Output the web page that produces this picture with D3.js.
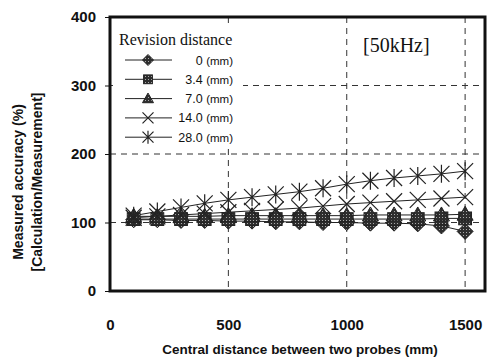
<!DOCTYPE html>
<html>
<head>
<meta charset="utf-8">
<script src="https://cdn.jsdelivr.net/npm/d3@7"></script>
<style>
  body { margin:0; background:#fff; }
  svg { display:block; }
  text { font-family: "Liberation Sans", Arial, sans-serif; fill:#111; }
</style>
</head>
<body>
<svg id="chart"></svg>
<script>
// data
const distances = [100,200,300,400,500,600,700,800,900,1000,1100,1200,1300,1400,1500];
const seriesNames = ["0", "3.4", "7.0", "14.0", "28.0"];
const rev0  = [104,104,103,103,102,102,101,101,100,100,99,99,98,95,87];
const rev34 = [105,105,105,105,105,105,105,105,105,105,105,105,105,106,106];
const rev70 = [109,109,109,109,110,110,110,110,110,110,111,111,111,111,112];
const rev140 = [107,109,111,113,115,117,119,121,124,127,129,131,133,135,137];
const rev280 = [110,116,122,128,133,137,141,145,150,156,161,165,168,171,175];
const xTicks = [0,500,1000,1500];
const yTicks = [0,100,200,300,400];

const allSeries = [rev0, rev34, rev70, rev140, rev280];
const markers = ["diamond", "square", "triangle", "cross", "star"];

let width = 488, height = 360;
let svg = d3.select("#chart").attr("width", width).attr("height", height);

let x = d3.scaleLinear().domain([0,1584]).range([110,485]);
let y = d3.scaleLinear().domain([0,400]).range([291,17]);

// dotted fill for the solid markers
let defs = svg.append("defs");
let pat = defs.append("pattern").attr("id","dots")
    .attr("width",3).attr("height",3).attr("patternUnits","userSpaceOnUse");
pat.append("rect").attr("width",3).attr("height",3).attr("fill","#2e2e2e");
pat.append("rect").attr("x",1).attr("y",1).attr("width",1).attr("height",1).attr("fill","#aaa");

// horizontal grid (dashed)
let grid = svg.append("g").attr("stroke","#333").attr("stroke-width",1)
    .attr("stroke-dasharray","6,5");
grid.selectAll(".gy").data(yTicks.slice(1,4)).enter().append("line")
    .attr("x1", x(0)).attr("x2", x(1584))
    .attr("y1", d => y(d)).attr("y2", d => y(d));

// legend background hides the grid behind it
svg.append("rect").attr("x",113).attr("y",27).attr("width",130).attr("height",118).attr("fill","#fff");

// vertical grid
grid.selectAll(".gx").data(xTicks.slice(1)).enter().append("line")
    .attr("x1", d => x(d)).attr("x2", d => x(d))
    .attr("y1", y(400)).attr("y2", y(0));

// axes
let xAxis = d3.axisBottom(x).tickValues(xTicks).tickFormat(d3.format("d")).tickSize(0).tickPadding(28);
let yAxis = d3.axisLeft(y).tickValues(yTicks).tickFormat(d3.format("d")).tickSize(5).tickPadding(9);
let gx = svg.append("g").attr("transform","translate(0,"+y(0)+")").call(xAxis);
let gy = svg.append("g").attr("transform","translate("+x(0)+",0)").call(yAxis);
[gx, gy].forEach(g => {
  g.select(".domain").remove();
  g.selectAll("text").attr("font-size",15).attr("font-weight","bold")
    .attr("fill","#111").style("font-family","Liberation Sans, Arial, sans-serif");
  g.selectAll("line").attr("stroke","#111");
});

// frame
svg.append("rect")
  .attr("x", x(0)).attr("y", y(400))
  .attr("width", x(1584)-x(0)).attr("height", y(0)-y(400))
  .attr("fill","none").attr("stroke","#111").attr("stroke-width",3);

function drawMarker(g, type, cx, cy, s) {
  if (type == "diamond") {
    g.append("path").attr("d","M"+cx+","+(cy-s)+"L"+(cx+s)+","+cy+"L"+cx+","+(cy+s)+"L"+(cx-s)+","+cy+"Z")
      .attr("fill","url(#dots)").attr("stroke","#222").attr("stroke-width",1);
  } else if (type == "square") {
    let h = s*0.8;
    g.append("rect").attr("x",cx-h).attr("y",cy-h).attr("width",2*h).attr("height",2*h)
      .attr("fill","url(#dots)").attr("stroke","#222").attr("stroke-width",1);
  } else if (type == "triangle") {
    g.append("path").attr("d","M"+cx+","+(cy-s)+"L"+(cx+s)+","+(cy+s*0.75)+"L"+(cx-s)+","+(cy+s*0.75)+"Z")
      .attr("fill","url(#dots)").attr("stroke","#222").attr("stroke-width",1);
  } else if (type == "cross") {
    g.append("path").attr("d","M"+(cx-s)+","+(cy-s)+"L"+(cx+s)+","+(cy+s)+"M"+(cx+s)+","+(cy-s)+"L"+(cx-s)+","+(cy+s))
      .attr("stroke","#222").attr("stroke-width",1.2);
  } else {
    g.append("path").attr("d","M"+(cx-s)+","+(cy-s)+"L"+(cx+s)+","+(cy+s)+"M"+(cx+s)+","+(cy-s)+"L"+(cx-s)+","+(cy+s)
        +"M"+cx+","+(cy-s-1)+"L"+cx+","+(cy+s+1))
      .attr("stroke","#222").attr("stroke-width",1.2);
  }
}

// lines and markers
let line = d3.line().x((d,i) => x(distances[i])).y(d => y(d));
let plot = svg.append("g");
allSeries.forEach(function(vals) {
  plot.append("path").datum(vals).attr("d", line)
    .attr("fill","none").attr("stroke","#222").attr("stroke-width",1);
});
allSeries.forEach(function(vals, k) {
  vals.forEach(function(v, i) {
    drawMarker(plot, markers[k], x(distances[i]), y(v), 8);
  });
});

// legend
let leg = svg.append("g");
leg.append("text").attr("x",119).attr("y",45).text("Revision distance")
  .style("font-family","Liberation Serif, Times New Roman, serif").attr("font-size",16);
seriesNames.forEach(function(name, k) {
  let ly = 60 + k*19.3;
  leg.append("line").attr("x1",125).attr("x2",172).attr("y1",ly).attr("y2",ly)
    .attr("stroke","#222").attr("stroke-width",1);
  drawMarker(leg, markers[k], 148, ly, 5.5);
  let t = leg.append("text").attr("x",233).attr("y",ly+4.5).attr("text-anchor","end")
    .attr("font-size",12.5);
  t.append("tspan").text(name + " ");
  t.append("tspan").text("(mm)").attr("font-size",11.5);
});

// frequency tag
svg.append("text").attr("x",363).attr("y",52).text("[50kHz]")
  .style("font-family","Liberation Serif, Times New Roman, serif").attr("font-size",20);

// axis titles
svg.append("text").attr("x",300).attr("y",354).attr("text-anchor","middle")
  .attr("font-size",13.5).attr("font-weight","bold").text("Central distance between two probes (mm)");
svg.append("text").attr("transform","translate(23,182) rotate(-90)").attr("text-anchor","middle")
  .attr("font-size",14).attr("font-weight","bold").text("Measured accuracy (%)");
svg.append("text").attr("transform","translate(42,182) rotate(-90)").attr("text-anchor","middle")
  .attr("font-size",14).attr("font-weight","bold").text("[Calculation/Measurement]");
</script>
</body>
</html>
